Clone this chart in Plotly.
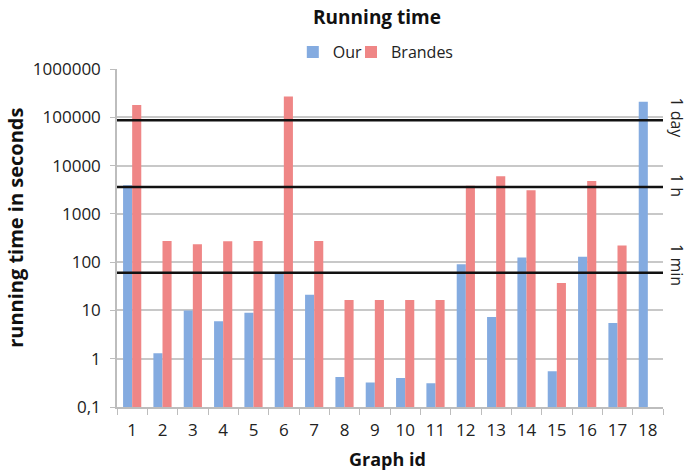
import math
import plotly.graph_objects as go

graph_ids = [str(i) for i in range(1, 19)]
our = [3900, 1.3, 10, 6, 9, 58, 21, 0.42, 0.32, 0.4, 0.31, 90, 7.3, 125, 0.55, 130, 5.5, 210000]
brandes = [180000, 275, 235, 270, 275, 270000, 275, 16.5, 16.5, 16.5, 16.5, 3800, 6000, 3100, 37, 4800, 220, None]

ytick_vals = [0.1, 1, 10, 100, 1000, 10000, 100000, 1000000]
ytick_text = ["0,1", "1", "10", "100", "1000", "10000", "100000", "1000000"]

ref_labels = ["1 day", "1 h", "1 min"]
ref_values = [86400, 3600, 60]
ref_label_pos = [95000, 3800, 87]

FONT = "Open Sans"

fig = go.Figure()
fig.add_trace(go.Bar(x=graph_ids, y=our, name="Our", legend="legend", showlegend=True,
                     marker=dict(color="#84abe0", line=dict(width=0))))
fig.add_trace(go.Bar(x=graph_ids, y=brandes, name="Brandes", legend="legend2", showlegend=True,
                     marker=dict(color="#ef8686", line=dict(width=0))))

for v in ref_values:
    fig.add_shape(type="line", xref="paper", yref="y", x0=0, x1=1, y0=v, y1=v,
                  line=dict(color="#111111", width=2.5), layer="above")

for lab, pos in zip(ref_labels, ref_label_pos):
    fig.add_annotation(text=lab, xref="paper", yref="y", x=1.0256, y=math.log10(pos),
                       showarrow=False, textangle=90,
                       font=dict(family=FONT, size=16, color="#222222"),
                       xanchor="center", yanchor="middle")

fig.add_annotation(text="<b>running time in seconds</b>", xref="paper", yref="paper",
                   x=-0.185, y=0.53, showarrow=False, textangle=-90,
                   font=dict(family=FONT, size=20, color="#111111"),
                   xanchor="center", yanchor="middle")
fig.add_annotation(text="<b>Graph id</b>", xref="paper", yref="paper",
                   x=0.496, y=-0.154, showarrow=False,
                   font=dict(family=FONT, size=18, color="#111111"),
                   xanchor="center", yanchor="middle")

legend_common = dict(orientation="h", y=1.05, xanchor="left", yanchor="middle",
                     font=dict(family=FONT, size=16, color="#222222"),
                     itemwidth=30, bgcolor="rgba(0,0,0,0)", visible=True)

fig.update_layout(
    width=688, height=473,
    margin=dict(l=117, r=25, t=69, b=66, autoexpand=False),
    paper_bgcolor="white", plot_bgcolor="white",
    barmode="group", bargap=0.4, bargroupgap=0,
    showlegend=True,
    title=dict(text="<b>Running time</b>", x=0.548, xref="container", xanchor="center",
               y=0.964, yref="container", yanchor="middle",
               font=dict(family=FONT, size=19, color="#111111")),
    legend=dict(x=0.322, **legend_common),
    legend2=dict(x=0.4286, **legend_common),
    font=dict(family=FONT, size=16, color="#222222"),
)

fig.update_xaxes(type="category", tickson="boundaries", ticks="outside", ticklen=6,
                 tickcolor="#bdbdbd", showline=True, linecolor="#bdbdbd", linewidth=1.5,
                 showgrid=False, automargin=False, ticklabelstandoff=7,
                 tickfont=dict(family=FONT, size=17, color="#222222"))
fig.update_yaxes(type="log", range=[-1, 6], tickvals=ytick_vals, ticktext=ytick_text,
                 ticks="outside", ticklen=5, tickcolor="#bdbdbd",
                 showline=True, linecolor="#bdbdbd", linewidth=1.5,
                 showgrid=True, gridcolor="#c8c8c8", gridwidth=1.5,
                 zeroline=False, automargin=False, ticklabelstandoff=6,
                 tickfont=dict(family=FONT, size=17, color="#222222"))

fig.write_html("out.html", config={"displayModeBar": False},
               post_script="document.body.style.margin='0px';")
